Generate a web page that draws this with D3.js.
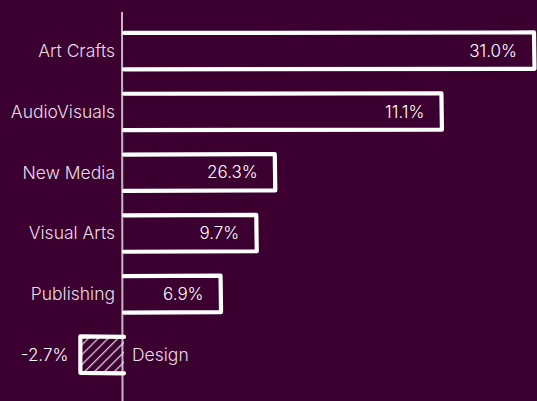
<!DOCTYPE html>
<html>
<head>
<meta charset="utf-8">
<script src="https://cdn.jsdelivr.net/npm/d3@7"></script>
<style>
  html, body { margin: 0; padding: 0; background: #3b0030; }
  svg { display: block; }
</style>
</head>
<body>
<svg id="chart" width="537" height="401"></svg>
<script>
const categories = ["Art Crafts", "AudioVisuals", "New Media", "Visual Arts", "Publishing", "Design"];
const barValues = [31.0, 24.0, 11.4, 10.0, 7.3, -3.3];
const valueLabels = ["31.0%", "11.1%", "26.3%", "9.7%", "6.9%", "-2.7%"];

const W = 537, H = 401;
const svg = d3.select("#chart");
svg.append("rect").attr("width", W).attr("height", H).attr("fill", "#3b0030");

const x = d3.scaleLinear().domain([0, 31]).range([124, 534]);
const y = d3.scaleBand().domain(categories).range([20.8, 385]).paddingInner(0.41).paddingOuter(0.2);

const catFont = "300 17.5px Inter, 'Noto Sans', sans-serif";
const valFont = "300 17px Inter, 'Noto Sans', sans-serif";

const defs = svg.append("defs");
const pat = defs.append("pattern").attr("id", "hatch").attr("patternUnits", "userSpaceOnUse")
  .attr("width", 7).attr("height", 7).attr("patternTransform", "rotate(45)");
pat.append("line").attr("x1", 0).attr("y1", 0).attr("x2", 0).attr("y2", 7)
  .attr("stroke", "#e8dce6").attr("stroke-width", 2.6).attr("stroke-opacity", 0.9);

// axis line
svg.append("path")
  .attr("d", `M${x(0) - 2},12 L${x(0) - 1.5},401`)
  .attr("stroke", "#c9b6c4").attr("stroke-width", 2).attr("fill", "none");

const g = svg.append("g");
categories.forEach((c, i) => {
  const v = barValues[i];
  const y0 = y(c), h = y.bandwidth();
  const x0 = x(0), x1 = x(v);
  if (v < 0) {
    g.append("rect").attr("x", x1).attr("y", y0).attr("width", x0 - x1).attr("height", h)
      .attr("fill", "url(#hatch)");
  }
  g.append("path")
    .attr("d", `M${x0},${y0} L${x1},${y0 - 0.5} L${x1 + (v < 0 ? 0 : 0.5)},${y0 + h} L${x0},${y0 + h + 0.5}`)
    .attr("fill", "none").attr("stroke", "#ffffff").attr("stroke-width", 4.2)
    .attr("stroke-linejoin", "round").attr("stroke-linecap", "round");

  const cy = y0 + h / 2;
  if (v >= 0) {
    g.append("text").attr("x", x0 - 9).attr("y", cy).attr("dy", "0.35em")
      .attr("text-anchor", "end").attr("fill", "#e8dde6")
      .style("font", catFont).text(c);
    g.append("text").attr("x", x1 - 17).attr("y", cy).attr("dy", "0.35em")
      .attr("text-anchor", "end").attr("fill", "#ffffff")
      .style("font", valFont).text(valueLabels[i]);
  } else {
    g.append("text").attr("x", x0 + 8).attr("y", cy).attr("dy", "0.35em")
      .attr("text-anchor", "start").attr("fill", "#e8dde6")
      .style("font", catFont).text(c);
    g.append("text").attr("x", x1 - 12).attr("y", cy).attr("dy", "0.35em")
      .attr("text-anchor", "end").attr("fill", "#ffffff")
      .style("font", valFont).text(valueLabels[i]);
  }
});
</script>
</body>
</html>
